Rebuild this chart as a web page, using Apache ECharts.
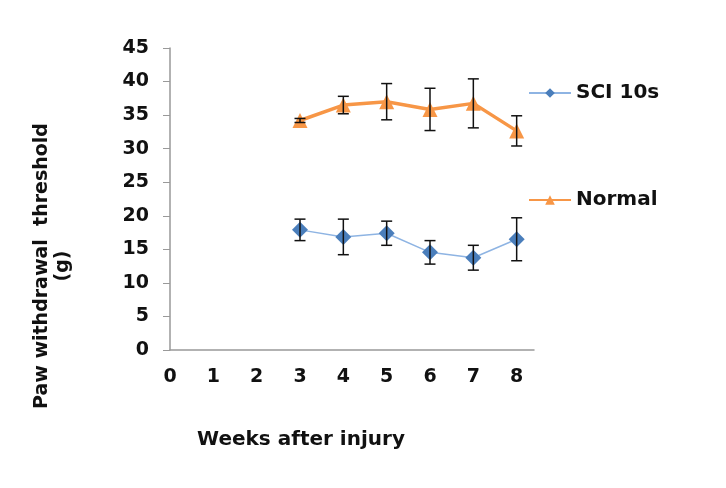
<!DOCTYPE html>
<html><head><meta charset="utf-8">
<script src="https://cdn.jsdelivr.net/npm/echarts@6/dist/echarts.min.js"></script>
<style>html,body{margin:0;padding:0;background:#fff}#c{width:726px;height:488px}</style>
</head><body><div id="c"></div>
<script>
const weeks = [3, 4, 5, 6, 7, 8];
const sciMean = [17.9, 16.85, 17.4, 14.55, 13.75, 16.5];
const sciErr = [1.6, 2.65, 1.8, 1.75, 1.85, 3.2];
const normalMean = [34.2, 36.5, 37.0, 35.85, 36.75, 32.65];
const normalErr = [0.3, 1.3, 2.7, 3.15, 3.65, 2.25];
const xTicks = [0, 1, 2, 3, 4, 5, 6, 7, 8];

const chart = echarts.init(document.getElementById('c'));
const font = '"DejaVu Sans", sans-serif';
const txt = { fontFamily: font, fontWeight: 'bold', color: '#111' };

function errData(means, errs) {
  return weeks.map((w, i) => [w, means[i] - errs[i], means[i] + errs[i]]);
}
function errRender(params, api) {
  const x = api.value(0);
  const lo = api.coord([x, api.value(1)]);
  const hi = api.coord([x, api.value(2)]);
  const cap = 5.5;
  const st = { stroke: '#111', lineWidth: 1.5 };
  return { type: 'group', children: [
    { type: 'line', shape: { x1: lo[0], y1: lo[1], x2: hi[0], y2: hi[1] }, style: st },
    { type: 'line', shape: { x1: lo[0] - cap, y1: lo[1], x2: lo[0] + cap, y2: lo[1] }, style: st },
    { type: 'line', shape: { x1: hi[0] - cap, y1: hi[1], x2: hi[0] + cap, y2: hi[1] }, style: st }
  ]};
}
const legendText = Object.assign({ fontSize: 20 }, txt);

chart.setOption({
  animation: false,
  backgroundColor: '#fff',
  grid: { left: 170, right: 192, top: 48, bottom: 138 },
  legend: [
    { orient: 'vertical', left: 528, top: 83, padding: 0, itemWidth: 42, itemHeight: 12, itemGap: 4,
      textStyle: legendText, data: ['SCI 10s'] },
    { orient: 'vertical', left: 528, top: 190, padding: 0, itemWidth: 42, itemHeight: 12, itemGap: 4,
      textStyle: legendText, data: ['Normal'] }
  ],
  xAxis: {
    type: 'value', min: 0, max: 8.4, interval: 1,
    splitLine: { show: false },
    axisLine: { lineStyle: { color: '#999', width: 1.5 } },
    axisTick: { show: false },
    axisLabel: Object.assign({ fontSize: 19, margin: 18, showMaxLabel: false,
      formatter: v => xTicks.includes(v) ? String(v) : '' }, txt)
  },
  yAxis: {
    type: 'value', min: 0, max: 45, interval: 5,
    splitLine: { show: false },
    axisLine: { show: true, lineStyle: { color: '#999', width: 1.5 } },
    axisTick: { show: true, length: 7, lineStyle: { color: '#999' } },
    axisLabel: Object.assign({ fontSize: 19, margin: 21 }, txt)
  },
  graphic: [
    { type: 'text', x: 53, y: 266, rotation: Math.PI / 2,
      style: { text: 'Paw withdrawal  threshold\n(g)', fontFamily: font, fontWeight: 'bold', fontSize: 19,
        fill: '#111', align: 'center', verticalAlign: 'middle', lineHeight: 21 } },
    { type: 'text', x: 301, y: 440,
      style: { text: 'Weeks after injury', fontFamily: font, fontWeight: 'bold', fontSize: 20,
        fill: '#111', align: 'center', verticalAlign: 'middle' } }
  ],
  series: [
    { name: 'SCI 10s', type: 'line', data: weeks.map((w, i) => [w, sciMean[i]]),
      symbol: 'diamond', symbolSize: 16, color: '#4A7EBB',
      lineStyle: { color: '#8EB4E3', width: 1.5 }, z: 3 },
    { name: 'Normal', type: 'line', data: weeks.map((w, i) => [w, normalMean[i]]),
      symbol: 'triangle', symbolSize: 15, color: '#F79646',
      lineStyle: { color: '#F79646', width: 3.5 }, z: 3 },
    { type: 'custom', renderItem: errRender, data: errData(sciMean, sciErr), z: 4, silent: true },
    { type: 'custom', renderItem: errRender, data: errData(normalMean, normalErr), z: 4, silent: true }
  ]
});
</script></body></html>
